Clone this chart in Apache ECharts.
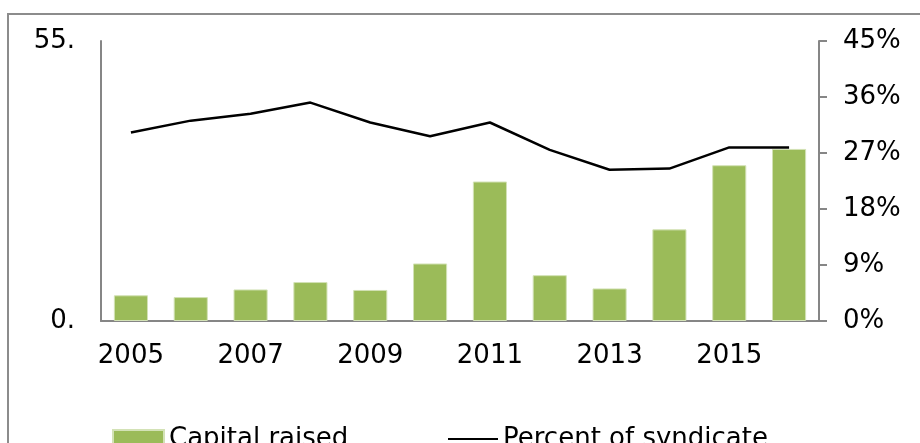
<!DOCTYPE html>
<html>
<head>
<meta charset="utf-8">
<script src="https://cdn.jsdelivr.net/npm/echarts@6/dist/echarts.min.js"></script>
<style>
  html, body { margin: 0; padding: 0; background: #fff; }
  #chart { width: 920px; height: 443px; }
</style>
</head>
<body>
<div id="chart"></div>
<script>
// years along the bottom
const years = ['2005', '2006', '2007', '2008', '2009', '2010', '2011', '2012', '2013', '2014', '2015', '2016'];
// capital raised (left axis)
const capitalRaised = [5.05, 4.7, 6.2, 7.65, 6.1, 11.3, 27.4, 9.0, 6.4, 18.0, 30.6, 33.8];
// percent of syndicate (right axis, %)
const percentSyndicate = [30.3, 32.2, 33.3, 35.1, 31.9, 29.7, 31.9, 27.5, 24.3, 24.5, 27.9, 27.9];

const font = 'DejaVu Sans, Verdana, sans-serif';
const axisGray = '#868686';

const chart = echarts.init(document.getElementById('chart'));

const option = {
  animation: false,
  graphic: [{
    type: 'rect',
    shape: { x: 8, y: 14, width: 940, height: 460 },
    style: { fill: 'none', stroke: '#8c8c8c', lineWidth: 2 },
    silent: true
  }],
  grid: { left: 101, right: 101, top: 41, bottom: 122 },
  legend: [
    {
      left: 107, top: 421,
      itemWidth: 51, itemHeight: 18, itemGap: 7,
      textStyle: { fontFamily: font, fontSize: 26, color: '#000' },
      data: [{ name: 'Capital raised', icon: 'rect' }]
    },
    {
      left: 443, top: 421,
      itemWidth: 50, itemHeight: 2, itemGap: 7,
      textStyle: { fontFamily: font, fontSize: 26, color: '#000' },
      data: [{ name: 'Percent of syndicate', icon: 'rect', itemStyle: { color: '#000' } }]
    }
  ],
  xAxis: {
    type: 'category',
    data: years,
    axisLine: { lineStyle: { color: axisGray, width: 2 } },
    axisTick: { show: false },
    axisLabel: { interval: 1, margin: 22, fontFamily: font, fontSize: 26, color: '#000' }
  },
  yAxis: [
    {
      type: 'value',
      min: 0, max: 55, interval: 55,
      axisLine: { show: true, lineStyle: { color: axisGray, width: 2 } },
      axisTick: { show: false },
      splitLine: { show: false },
      axisLabel: {
        margin: 26, fontFamily: font, fontSize: 26, color: '#000',
        formatter: v => v + '.'
      }
    },
    {
      type: 'value',
      position: 'right',
      min: 0, max: 45, interval: 9,
      axisLine: { show: true, lineStyle: { color: axisGray, width: 2 } },
      axisTick: { show: true, length: 8, lineStyle: { color: axisGray, width: 2 } },
      splitLine: { show: false },
      axisLabel: {
        margin: 24, fontFamily: font, fontSize: 26, color: '#000',
        formatter: '{value}%'
      }
    }
  ],
  series: [
    {
      name: 'Capital raised',
      type: 'bar',
      yAxisIndex: 0,
      barWidth: '57%',
      itemStyle: { color: '#9bbb59', borderColor: '#d3e2b6', borderWidth: 1 },
      data: capitalRaised
    },
    {
      name: 'Percent of syndicate',
      type: 'line',
      yAxisIndex: 1,
      symbol: 'none',
      lineStyle: { color: '#000', width: 2.5 },
      itemStyle: { color: '#000' },
      data: percentSyndicate
    }
  ]
};

chart.setOption(option);
</script>
</body>
</html>
